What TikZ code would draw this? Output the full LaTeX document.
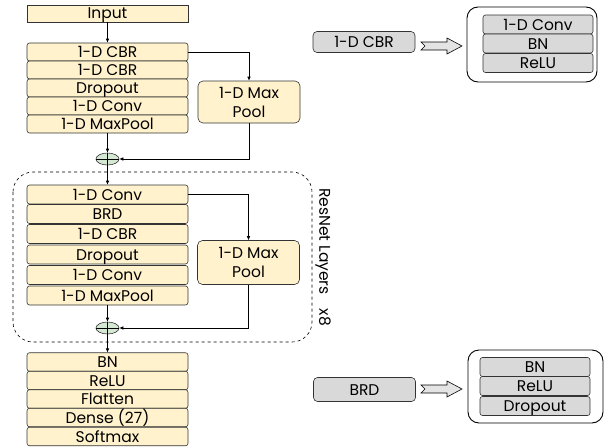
\documentclass[tikz,border=0pt]{standalone}
\usepackage{fontspec}
\setmainfont{Poppins}
\usetikzlibrary{shapes.geometric,arrows.meta}
\definecolor{beige}{HTML}{FFF2CC}
\definecolor{lgray}{HTML}{D9D9D9}
\definecolor{lgreen}{HTML}{D5E8D4}
\definecolor{edge}{HTML}{333333}
\tikzset{
  x=1pt,y=-1pt,
  fnt/.style={font=\fontsize{15.5}{17}\selectfont,text height=11pt,text depth=0pt},
  lay/.style={draw=edge,fill=beige,rounded corners=2.5pt,minimum width=161pt,minimum height=18pt,inner sep=0pt,fnt,line width=0.6pt},
  pool/.style={draw=edge,fill=beige,rounded corners=5pt,minimum width=102pt,minimum height=42pt,inner sep=0pt,align=center,font=\fontsize{15.5}{19}\selectfont,line width=0.6pt},
  gbox/.style={draw=edge,fill=lgray,rounded corners=2.5pt,minimum width=110pt,minimum height=19pt,inner sep=0pt,fnt,line width=0.6pt},
  gmain/.style={draw=edge,fill=lgray,rounded corners=4pt,minimum width=102pt,minimum height=21pt,inner sep=0pt,fnt,line width=0.6pt},
  cont/.style={draw=black,rounded corners=11pt,line width=0.9pt},
  addn/.style={draw=edge,fill=lgreen,ellipse,minimum width=23pt,minimum height=12pt,inner sep=0pt,line width=0.6pt},
  conn/.style={draw=black,line width=0.6pt,-{Latex[length=4pt,width=3.5pt]}},
  line/.style={draw=black,line width=0.6pt},
  barrow/.style={draw=black,fill=lgray!70,line width=0.6pt},
}
\begin{document}
\begin{tikzpicture}
\useasboundingbox (0,0) rectangle (605,447);
% input
\node[lay,rounded corners=0pt,minimum height=17pt] (in) at (107.5,13.5) {Input};
% stack 1
\node[lay] (a1) at (107.5,52) {1-D CBR};
\node[lay] (a2) at (107.5,70) {1-D CBR};
\node[lay] (a3) at (107.5,88) {Dropout};
\node[lay] (a4) at (107.5,106) {1-D Conv};
\node[lay] (a5) at (107.5,124) {1-D MaxPool};
\node[pool] (p1) at (249,102) {1-D Max\\Pool};
\node[addn] (s1) at (107.5,159) {};
\draw[line] (s1.north) -- (s1.south) (s1.west) -- (s1.east);
\draw[conn] (in) -- (a1);
\draw[conn] (a1.east) -| (p1.north);
\draw[conn] (p1.south) |- (s1.east);
\draw[conn] (a5) -- (s1);
% dashed resnet box
\draw[dashed,line width=0.6pt,rounded corners=20pt] (13,172) rectangle (312,342);
\node[rotate=-90,font=\fontsize{15.5}{17}\selectfont] (lbl) at (323,257) {ResNet Layers\hspace{14pt}x8};
% stack 2
\node[lay,minimum height=19pt] (b1) at (107.5,194.5) {1-D Conv};
\node[lay,minimum height=19pt] (b2) at (107.5,214) {BRD};
\node[lay,minimum height=19pt] (b3) at (107.5,234) {1-D CBR};
\node[lay,minimum height=19pt] (b4) at (107.5,254.5) {Dropout};
\node[lay,minimum height=19pt] (b5) at (107.5,275) {1-D Conv};
\node[lay,minimum height=19pt] (b6) at (107.5,295.5) {1-D MaxPool};
\node[pool,minimum height=44pt] (p2) at (248.5,262.5) {1-D Max\\Pool};
\node[addn] (s2) at (107.5,328) {};
\draw[line] (s2.north) -- (s2.south) (s2.west) -- (s2.east);
\draw[conn] (s1) -- (b1);
\draw[conn] (b1.east) -| (p2.north);
\draw[conn] (p2.south) |- (s2.east);
\draw[conn] (b6) -- (s2);
% stack 3
\node[lay,minimum height=18.5pt] (c1) at (107.5,362) {BN};
\node[lay,minimum height=18.5pt] (c2) at (107.5,380.5) {ReLU};
\node[lay,minimum height=18.5pt] (c3) at (107.5,399) {Flatten};
\node[lay,minimum height=18.5pt] (c4) at (107.5,417.5) {Dense (27)};
\node[lay,minimum height=18.5pt] (c5) at (107.5,436.5) {Softmax};
\draw[conn] (s2) -- (c1);
% right top legend
\node[gmain] (cbr) at (364,42) {1-D CBR};
\draw[barrow] (421,42) -- (447,42) -- (447,38) -- (462,46) -- (447,54) -- (447,50) -- (421,50) -- (425,46) -- cycle;
\node[cont,minimum width=130pt,minimum height=75pt] (k1) at (532,44.5) {};
\node[gbox] (k1a) at (538,24.5) {1-D Conv};
\node[gbox] (k1b) at (538,43.5) {BN};
\node[gbox] (k1c) at (538,63) {ReLU};
% right bottom legend
\node[gmain,minimum height=24pt] (brd) at (364.5,389.5) {BRD};
\draw[barrow] (421,385) -- (447,385) -- (447,381) -- (462,389) -- (447,397) -- (447,393) -- (421,393) -- (425,389) -- cycle;
\node[cont,minimum width=135pt,minimum height=73pt] (k2) at (535.5,386.5) {};
\node[gbox] (k2a) at (535,367) {BN};
\node[gbox] (k2b) at (535,386) {ReLU};
\node[gbox] (k2c) at (535,406) {Dropout};
\end{tikzpicture}
\end{document}
